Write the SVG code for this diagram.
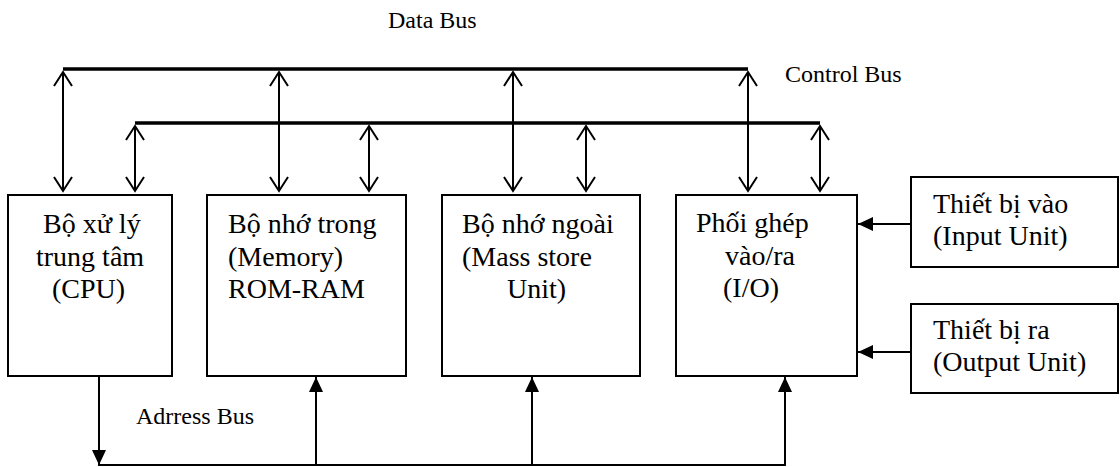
<svg xmlns="http://www.w3.org/2000/svg" width="1120" height="467" viewBox="0 0 1120 467">
  <style>
    .box { fill: #fff; stroke: #000; stroke-width: 2; }
    .txt { font-family: "Liberation Serif", "Times New Roman", serif; font-size: 28px; fill: #000; }
    .lbl { font-family: "Liberation Serif", "Times New Roman", serif; font-size: 24px; fill: #000; }
    .bus { stroke: #000; stroke-width: 3.5; fill: none; }
    .wire { stroke: #000; stroke-width: 2; fill: none; }
    .bi { marker-start: url(#open); marker-end: url(#open); }
    .one { marker-end: url(#solid); }
  </style>
  <defs>
    <marker id="open" markerUnits="userSpaceOnUse" viewBox="-16 -11 18 22" refX="0" refY="0" markerWidth="18" markerHeight="22" orient="auto-start-reverse" overflow="visible">
      <path d="M-14,-9 L0,0 L-14,9" fill="none" stroke="#000" stroke-width="2"/>
    </marker>
    <marker id="solid" markerUnits="userSpaceOnUse" viewBox="-15 -8 16 16" refX="0" refY="0" markerWidth="16" markerHeight="16" orient="auto" overflow="visible">
      <path d="M-15,-7 L0,0 L-15,7 Z" fill="#000"/>
    </marker>
  </defs>

  <!-- bus labels -->
  <text class="lbl" x="388" y="28">Data Bus</text>
  <text class="lbl" x="785" y="82">Control Bus</text>
  <text class="lbl" x="136" y="424">Adrress Bus</text>

  <g id="connectors">
    <!-- data bus and control bus -->
    <line class="bus" x1="63" y1="69" x2="748" y2="69"/>
    <line class="bus" x1="135" y1="123" x2="820" y2="123"/>
    <!-- data bus taps -->
    <line class="wire bi" x1="63" y1="72" x2="63" y2="191"/>
    <line class="wire bi" x1="279" y1="72" x2="279" y2="191"/>
    <line class="wire bi" x1="513" y1="72" x2="513" y2="191"/>
    <line class="wire bi" x1="748" y1="72" x2="748" y2="191"/>
    <!-- control bus taps -->
    <line class="wire bi" x1="135" y1="126" x2="135" y2="191"/>
    <line class="wire bi" x1="369" y1="126" x2="369" y2="191"/>
    <line class="wire bi" x1="586" y1="126" x2="586" y2="191"/>
    <line class="wire bi" x1="820" y1="126" x2="820" y2="191"/>
    <!-- address bus -->
    <line class="wire one" x1="99" y1="376" x2="99" y2="465"/>
    <line class="wire" x1="98" y1="465" x2="786" y2="465"/>
    <line class="wire one" x1="316" y1="465" x2="316" y2="377"/>
    <line class="wire one" x1="532" y1="465" x2="532" y2="377"/>
    <line class="wire one" x1="785" y1="465" x2="785" y2="377"/>
    <!-- peripheral links -->
    <line class="wire one" x1="911" y1="224" x2="858" y2="224"/>
    <line class="wire one" x1="911" y1="352" x2="858" y2="352"/>
  </g>

  <g id="cpu">
    <rect class="box" x="8" y="195" width="164" height="181"/>
    <text class="txt" x="43" y="233">Bộ xử lý</text>
    <text class="txt" x="36" y="266">trung tâm</text>
    <text class="txt" x="52" y="298">(CPU)</text>
  </g>

  <g id="memory">
    <rect class="box" x="207" y="195" width="199" height="181"/>
    <text class="txt" x="228" y="233">Bộ nhớ trong</text>
    <text class="txt" x="228" y="266">(Memory)</text>
    <text class="txt" x="228" y="298">ROM-RAM</text>
  </g>

  <g id="mass-store">
    <rect class="box" x="442" y="195" width="198" height="181"/>
    <text class="txt" x="462" y="233">Bộ nhớ ngoài</text>
    <text class="txt" x="462" y="266">(Mass store</text>
    <text class="txt" x="507" y="298">Unit)</text>
  </g>

  <g id="io">
    <rect class="box" x="676" y="195" width="181" height="181"/>
    <text class="txt" x="696" y="232">Phối ghép</text>
    <text class="txt" x="725" y="265">vào/ra</text>
    <text class="txt" x="723" y="297">(I/O)</text>
  </g>

  <g id="input-unit">
    <rect class="box" x="911" y="177" width="207" height="90"/>
    <text class="txt" x="933" y="213">Thiết bị vào</text>
    <text class="txt" x="933" y="245">(Input Unit)</text>
  </g>

  <g id="output-unit">
    <rect class="box" x="911" y="304" width="207" height="89"/>
    <text class="txt" x="933" y="339">Thiết bị ra</text>
    <text class="txt" x="933" y="371">(Output Unit)</text>
  </g>
</svg>
